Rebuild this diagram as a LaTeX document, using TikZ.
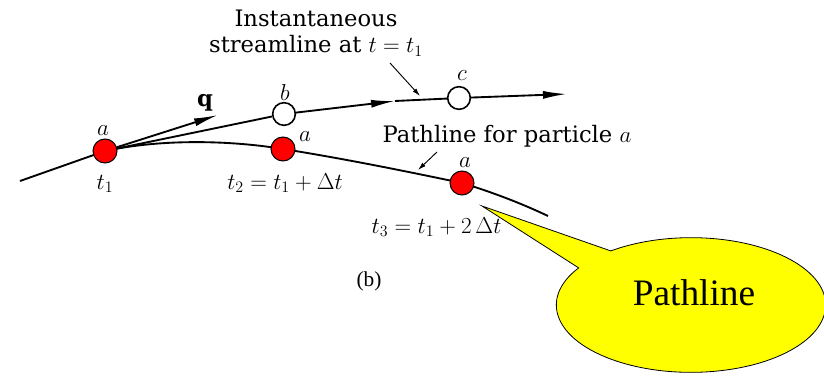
\documentclass[tikz,border=0pt]{standalone}
\usepackage{fontspec}
\setmainfont{DejaVu Serif}
\newfontfamily\calloutfont{Liberation Serif}
\usetikzlibrary{arrows.meta,positioning,shapes.geometric,shapes.callouts}
\definecolor{dotred}{RGB}{255,0,0}
\definecolor{bubbleyellow}{RGB}{255,255,0}

\begin{document}
\begin{tikzpicture}[>=Latex,x=0.75pt,y=-0.75pt,
  flowline/.style={line width=1.4pt},
  pointer/.style={line width=0.7pt,-{Latex[length=6pt,width=3.5pt]}},
  bigtip/.style={-{Latex[length=18pt,width=6pt]}},
  particle/.style={circle,draw,line width=0.8pt,fill=dotred,minimum size=18pt,inner sep=0pt},
  marker/.style={circle,draw,line width=1.2pt,fill=white,minimum size=17pt,inner sep=0pt},
  lbl/.style={font=\fontsize{17}{16}\selectfont,inner sep=1pt}]
\useasboundingbox (0,0) rectangle (824,375);
% positions of the particle at t1, t2, t3
\coordinate (p1) at (105,151);
\coordinate (p2) at (283,149);
\coordinate (p3) at (462,183);
% pathline of particle a
\draw[flowline] (20,181) -- (p1) .. controls (165,138) and (235,141) .. (p2)
  .. controls (340,158) and (400,170) .. (p3) .. controls (495,193) and (525,205) .. (548,216);
\node[particle] (a1) at (p1) {};
\node[particle] (a2) at (p2) {};
\node[particle] (a3) at (p3) {};
% streamline at t = t1
\node[marker] (b) at (284,114) {};
\node[marker] (c) at (459,98) {};
\coordinate (smid) at (395,101);
\coordinate (send) at (567,94);
\coordinate (qtip) at (218,115);
\draw[flowline] (a1) -- (b);
\draw[flowline,bigtip] (b) -- (smid);
\draw[flowline] (smid) -- (c);
\draw[flowline,bigtip] (c) -- (send);
\draw[flowline,bigtip] (a1) -- (qtip);
% labels
\node[lbl,align=center,font=\fontsize{17}{20}\selectfont] (stream) at (316,33) {Instantaneous\\streamline at $t=t_1$};
\coordinate (sfrom) at (390,63);
\coordinate (sto) at (420,96);
\draw[pointer] (sfrom) -- (sto);
\node[lbl,anchor=base] (path) at (507,142) {Pathline for particle $a$};
\coordinate (pfrom) at (437,152);
\coordinate (pto) at (418,170);
\draw[pointer] (pfrom) -- (pto);
\node[lbl] (qlbl) at (205,103) {$\mathbf{q}$};
\node[lbl] (a1top) at (103,131) {$a$};
\node[lbl] (a2top) at (305,137) {$a$};
\node[lbl] (a3top) at (465,163) {$a$};
\node[lbl] (blbl) at (285,92) {$b$};
\node[lbl] (clbl) at (462,76) {$c$};
\node[lbl] (t1lbl) at (105,184) {$t_1$};
\node[lbl] (t2lbl) at (285,183) {$t_2=t_1+\Delta t$};
\node[lbl,anchor=west] (t3lbl) at (370,227) {$t_3=t_1+2\,\Delta t$};
\node[font=\calloutfont\fontsize{16}{18}\selectfont] (sub) at (369,281) {(b)};
% callout
\coordinate (ptip) at (482,206);
\node[ellipse callout,draw,line width=0.6pt,fill=bubbleyellow,minimum width=202pt,minimum height=101pt,
  inner sep=0pt,callout absolute pointer=(ptip),callout pointer arc=20] (bubble) at (691,305) {};
\node[font=\calloutfont\fontsize{28}{30}\selectfont] (bubbletext) at (694,293) {Pathline};
\end{tikzpicture}
\end{document}
